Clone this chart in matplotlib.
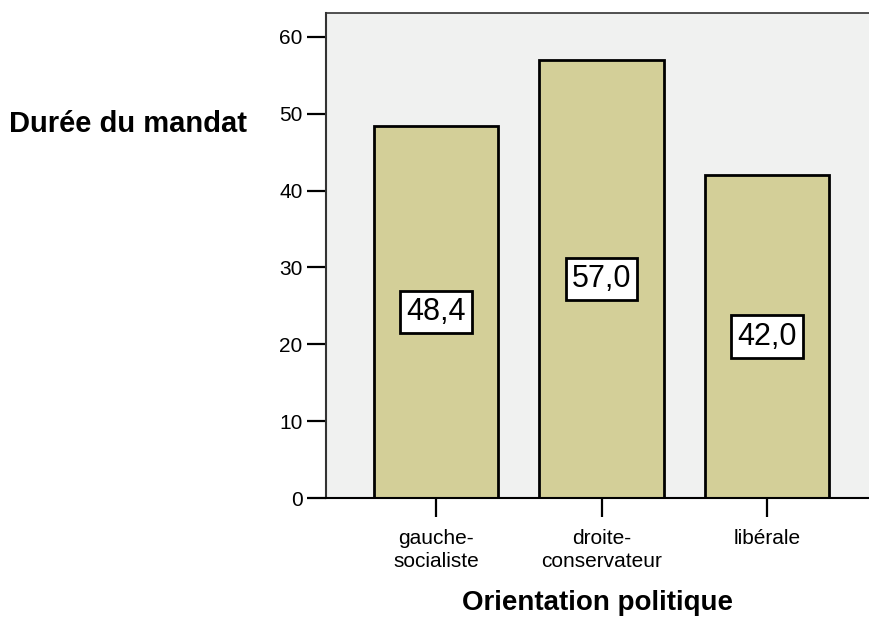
import matplotlib.pyplot as plt

plt.rcParams['font.family'] = ['Liberation Sans', 'DejaVu Sans']

categories = ['gauche-\nsocialiste', 'droite-\nconservateur', 'libérale']
values = [48.4, 57.0, 42.0]
value_labels = ['48,4', '57,0', '42,0']
y_ticks = [0, 10, 20, 30, 40, 50, 60]

W, H = 869, 624
fig = plt.figure(figsize=(W / 100, H / 100), dpi=100)
ax = fig.add_axes([326 / W, 1 - 498 / H, (W - 326) / W, (498 - 13) / H])
ax.set_facecolor('#f0f1f0')

x = list(range(len(categories)))
ax.bar(x, values, width=0.75, color='#d3cf98', edgecolor='black', linewidth=2, zorder=2)

for xi, v, lab in zip(x, values, value_labels):
    ax.text(xi, v / 2, lab, ha='center', va='center', fontsize=22, zorder=3,
            bbox=dict(boxstyle='square,pad=0.2', facecolor='white', edgecolor='black', linewidth=2))

ax.set_xlim(-0.665, 2.616)
ax.set_ylim(0, 63.1)
ax.set_yticks(y_ticks)
ax.set_xticks(x)
ax.set_xticklabels(categories, fontsize=15, linespacing=1.3)
ax.tick_params(axis='y', labelsize=15, length=14, width=1.6, pad=3)
ax.tick_params(axis='x', length=14, width=1.6, pad=8)

ax.spines['right'].set_visible(False)
ax.spines['top'].set_color('#333333')
ax.spines['top'].set_linewidth(1.2)
ax.spines['left'].set_color('#333333')
ax.spines['left'].set_linewidth(1.5)
ax.spines['bottom'].set_linewidth(1.5)

fig.text(247 / W, 1 - 124 / H, 'Durée du mandat', ha='right', va='center', fontsize=21, fontweight='bold')
ax.set_xlabel('Orientation politique', fontsize=20, fontweight='bold', labelpad=14)

fig.savefig('out.png', dpi=100)
